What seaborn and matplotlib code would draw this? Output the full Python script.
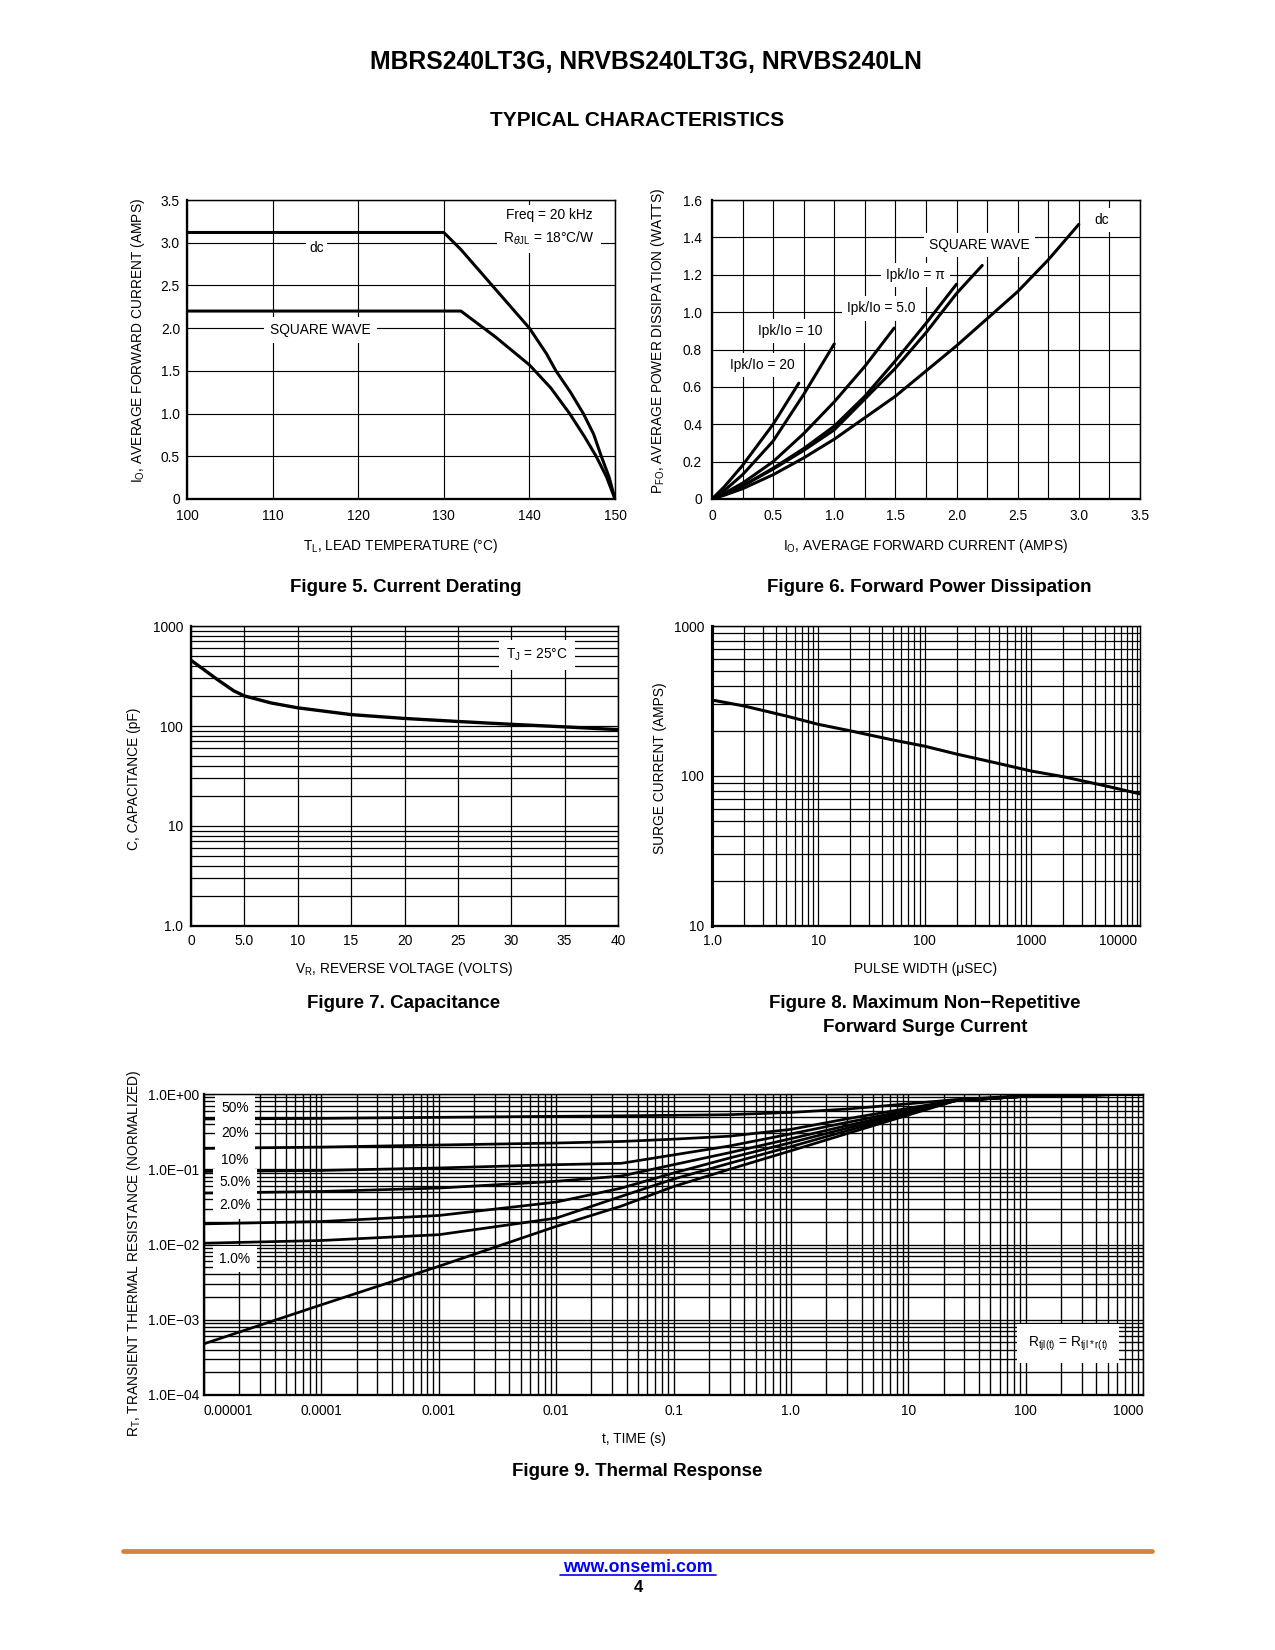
import numpy as np
import seaborn as sns
import matplotlib.pyplot as plt
from matplotlib.lines import Line2D
from matplotlib.ticker import LogLocator, MultipleLocator, NullFormatter

sns.set_style('white')
plt.rcParams['font.family'] = ['Liberation Sans', 'DejaVu Sans']
plt.rcParams['text.color'] = 'black'
plt.rcParams['axes.labelcolor'] = 'black'
plt.rcParams['xtick.color'] = 'black'
plt.rcParams['ytick.color'] = 'black'

W, H = 1275, 1650

# ---- Figure 5: current derating (lead temp degC -> amps) ----
derate_dc_temp = [100, 130, 132, 136, 140, 142, 143.1, 144.8, 146.3, 147.5, 148.4, 149.3, 150]
derate_dc_amps = [3.12, 3.12, 2.92, 2.46, 2.0, 1.7, 1.5, 1.25, 1.0, 0.76, 0.5, 0.26, 0.0]
derate_sq_temp = [100, 132, 136, 140, 142.5, 144.7, 146.5, 147.8, 149, 150]
derate_sq_amps = [2.2, 2.2, 1.9, 1.57, 1.3, 1.0, 0.72, 0.5, 0.26, 0.0]

# ---- Figure 6: forward power dissipation (amps -> watts) ----
pfo_curves = {
    'ipk20': ([0, 0.1, 0.25, 0.5, 0.71], [0, 0.065, 0.18, 0.40, 0.62]),
    'ipk10': ([0, 0.1, 0.25, 0.5, 0.75, 1.0], [0, 0.045, 0.13, 0.31, 0.56, 0.83]),
    'ipk5': ([0, 0.1, 0.25, 0.5, 0.75, 1.0, 1.25, 1.49],
             [0, 0.03, 0.085, 0.2, 0.35, 0.52, 0.71, 0.915]),
    'ipkpi': ([0, 0.1, 0.25, 0.5, 0.75, 1.0, 1.25, 1.5, 1.75, 2.0],
              [0, 0.025, 0.07, 0.165, 0.27, 0.39, 0.55, 0.74, 0.94, 1.15]),
    'square': ([0, 0.1, 0.25, 0.5, 0.75, 1.0, 1.5, 1.75, 2.0, 2.21],
               [0, 0.025, 0.07, 0.16, 0.26, 0.37, 0.70, 0.89, 1.10, 1.25]),
    'dc': ([0, 0.1, 0.25, 0.5, 0.75, 1.0, 1.5, 2.0, 2.5, 2.75, 3.0],
           [0, 0.02, 0.055, 0.13, 0.22, 0.32, 0.55, 0.82, 1.11, 1.28, 1.47]),
}

# ---- Figure 7: capacitance ----
cap_volts = [0, 1, 2.5, 4, 5, 7.5, 10, 15, 20, 25, 30, 35, 40]
cap_pf = [454, 380, 290, 225, 200, 170, 152, 130, 119, 111, 104, 98, 92]

# ---- Figure 8: surge current ----
surge_us = [1, 2, 5, 10, 20, 50, 100, 200, 500, 1000, 2000, 5000, 10600]
surge_amps = [321, 293, 251, 221, 200, 174, 158, 140, 121, 108, 99, 86, 76]

# ---- Figure 9: thermal response r(t) ----
rt_time = [1e-5, 1e-4, 1e-3, 1e-2, 0.036, 0.1, 0.3, 1, 3, 10, 25, 100, 1000]
rt_50 = [0.465, 0.474, 0.490, 0.505, 0.513, 0.521, 0.531, 0.569, 0.631, 0.741, 0.841, 0.955, 1.0]
rt_20 = [0.189, 0.197, 0.210, 0.223, 0.234, 0.251, 0.275, 0.339, 0.468, 0.646, 0.822, 0.933, 1.0]
rt_10 = [0.0935, 0.0964, 0.104, 0.115, 0.120, 0.155, 0.204, 0.295, 0.419, 0.608, 0.813, 0.933, 1.0]
rt_5 = [0.0482, 0.0507, 0.0562, 0.0692, 0.0813, 0.115, 0.166, 0.255, 0.380, 0.582, 0.813, 0.933, 1.0]
rt_2 = [0.0188, 0.0202, 0.0243, 0.0366, 0.0562, 0.0891, 0.141, 0.226, 0.351, 0.562, 0.813, 0.933, 1.0]
rt_1 = [0.0104, 0.0113, 0.0135, 0.0224, 0.0437, 0.0741, 0.120, 0.200, 0.324, 0.545, 0.813, 0.933, 1.0]
rt_single = [0.000479, 0.00158, 0.00513, 0.0174, 0.0324, 0.0589, 0.1, 0.176, 0.297, 0.525, 0.813, 0.933, 1.0]
rt_labels = ['50%', '20%', '10%', '5.0%', '2.0%', '1.0%']
rt_label_y = [0.65, 0.30, 0.134, 0.067, 0.033, 0.0064]

FS = 6.6
BOX = dict(facecolor='white', edgecolor='none', pad=1.5)

fig = plt.figure(figsize=(8.5, 11), dpi=150)
fig.patch.set_facecolor('white')


def add_ax(x0, y0, x1, y1):
    # axes box given in page pixels
    return fig.add_axes([x0 / W, 1 - y1 / H, (x1 - x0) / W, (y1 - y0) / H])


def page_text(x, y, s, **kw):
    fig.text(x / W, 1 - y / H, s, ha='center', va='center', **kw)


def style_axes(ax, pad, grid_lw=0.6):
    for side in ['left', 'bottom']:
        ax.spines[side].set_linewidth(1.1)
    for side in ['top', 'right']:
        ax.spines[side].set_linewidth(0.7)
    for s in ax.spines.values():
        s.set_color('black')
        s.set_visible(True)
        s.set_zorder(5)
    ax.tick_params(which='both', length=0, labelsize=FS, colors='black')
    ax.tick_params(axis='x', pad=pad[0])
    ax.tick_params(axis='y', pad=pad[1])
    ax.grid(which='both', color='black', lw=grid_lw)
    ax.set_axisbelow(True)


def log_minor(axis):
    axis.set_minor_locator(LogLocator(base=10, subs=np.arange(2, 10), numticks=100))
    axis.set_minor_formatter(NullFormatter())


def curve(ax, x, y, lw=1.45):
    sns.lineplot(x=x, y=y, ax=ax, color='black', lw=lw, estimator=None, zorder=3)


def axis_labels(ax, xl, yl, xpos, ypos):
    ax.set_xlabel(xl, fontsize=FS, va='center')
    ax.set_ylabel(yl, fontsize=FS, va='center')
    ax.xaxis.set_label_coords(*xpos)
    ax.yaxis.set_label_coords(*ypos)


# ---------------- Figure 5 ----------------
ax5 = add_ax(187, 200, 615, 499)
ax5.set_xlim(100, 150)
ax5.set_ylim(0, 3.5)
ax5.xaxis.set_major_locator(MultipleLocator(10))
ax5.set_yticks(np.arange(0, 3.51, 0.5), ['0', '0.5', '1.0', '1.5', '2.0', '2.5', '3.0', '3.5'])
style_axes(ax5, (5, 3.4), grid_lw=0.55)
curve(ax5, derate_dc_temp, derate_dc_amps)
curve(ax5, derate_sq_temp, derate_sq_amps)
ax5.text(115.1, 2.94, 'dc', fontsize=FS, ha='center', va='center', bbox=BOX, zorder=4)
ax5.text(115.6, 1.98, 'SQUARE WAVE', fontsize=FS, ha='center', va='center',
         bbox=dict(facecolor='white', edgecolor='none', pad=3), zorder=4)
ax5.text(142.3, 3.32, 'Freq = 20 kHz', fontsize=FS, ha='center', va='center', bbox=BOX, zorder=4)
ax5.text(142.3, 3.05, r'R$_{\theta\mathregular{JL}}$ = 18°C/W', fontsize=FS, ha='center',
         va='center', bbox=dict(facecolor='white', edgecolor='none', pad=3), zorder=4)
axis_labels(ax5, r'T$_\mathregular{L}$, LEAD TEMPERATURE (°C)',
            r'I$_\mathregular{O}$, AVERAGE FORWARD CURRENT (AMPS)', (0.5, -0.157), (-0.1145, 0.53))

# ---------------- Figure 6 ----------------
ax6 = add_ax(712, 200, 1140, 499)
ax6.set_xlim(0, 3.5)
ax6.set_ylim(0, 1.6)
ax6.set_xticks(np.arange(0, 3.51, 0.5), ['0', '0.5', '1.0', '1.5', '2.0', '2.5', '3.0', '3.5'])
ax6.xaxis.set_minor_locator(MultipleLocator(0.25))
ax6.set_yticks(np.arange(0, 1.61, 0.2), ['0', '0.2', '0.4', '0.6', '0.8', '1.0', '1.2', '1.4', '1.6'])
style_axes(ax6, (5, 4.8), grid_lw=0.55)
for key, (io, pw) in pfo_curves.items():
    curve(ax6, io, pw)
for x, y, s in [(3.19, 1.494, 'dc'), (2.19, 1.36, 'SQUARE WAVE'), (1.664, 1.2, 'Ipk/Io = π'),
                (1.386, 1.02, 'Ipk/Io = 5.0'), (0.636, 0.90, 'Ipk/Io = 10'),
                (0.41, 0.718, 'Ipk/Io = 20')]:
    ax6.text(x, y, s, fontsize=FS, ha='center', va='center',
             bbox=dict(facecolor='white', edgecolor='none', pad=2.5), zorder=4)
axis_labels(ax6, r'I$_\mathregular{O}$, AVERAGE FORWARD CURRENT (AMPS)',
            r'P$_\mathregular{FO}$, AVERAGE POWER DISSIPATION (WATTS)', (0.498, -0.157), (-0.126, 0.53))

# ---------------- Figure 7 ----------------
ax7 = add_ax(191, 626, 618, 926)
ax7.set_yscale('log')
ax7.set_xlim(0, 40)
ax7.set_ylim(1, 1000)
ax7.set_xticks(np.arange(0, 41, 5), ['0', '5.0', '10', '15', '20', '25', '30', '35', '40'])
ax7.set_yticks([1, 10, 100, 1000], ['1.0', '10', '100', '1000'])
log_minor(ax7.yaxis)
style_axes(ax7, (4, 3.8))
curve(ax7, cap_volts, cap_pf, lw=1.6)
ax7.text(32.4, 513, r'T$_\mathregular{J}$ = 25°C', fontsize=FS, ha='center', va='center',
         bbox=dict(facecolor='white', edgecolor='none', pad=3.5), zorder=4)
axis_labels(ax7, r'V$_\mathregular{R}$, REVERSE VOLTAGE (VOLTS)', 'C, CAPACITANCE (pF)',
            (0.499, -0.143), (-0.134, 0.49))

# ---------------- Figure 8 ----------------
ax8 = add_ax(712, 626, 1140, 926)
ax8.set_xscale('log')
ax8.set_yscale('log')
ax8.set_xlim(1, 10600)
ax8.set_ylim(10, 1000)
ax8.set_xticks([1, 10, 100, 1000, 10000], ['1.0', '10', '100', '1000', '10000'])
ax8.set_yticks([10, 100, 1000], ['10', '100', '1000'])
log_minor(ax8.xaxis)
log_minor(ax8.yaxis)
style_axes(ax8, (4, 3.8))
ax8.spines['left'].set_linewidth(1.5)
ax8.get_xticklabels()[-1].set_ha('right')
curve(ax8, surge_us, surge_amps)
axis_labels(ax8, 'PULSE WIDTH (μSEC)', 'SURGE CURRENT (AMPS)', (0.498, -0.143), (-0.122, 0.527))

# ---------------- Figure 9 ----------------
ax9 = add_ax(204, 1094, 1143, 1395)
ax9.set_xscale('log')
ax9.set_yscale('log')
ax9.set_xlim(1e-5, 1e3)
ax9.set_ylim(1e-4, 1)
ax9.set_xticks([1e-5, 1e-4, 1e-3, 1e-2, 1e-1, 1, 10, 100, 1000],
               ['0.00001', '0.0001', '0.001', '0.01', '0.1', '1.0', '10', '100', '1000'])
ax9.set_yticks([1e-4, 1e-3, 1e-2, 1e-1, 1],
               ['1.0E\u221204', '1.0E\u221203', '1.0E\u221202', '1.0E\u221201', '1.0E+00'])
log_minor(ax9.xaxis)
log_minor(ax9.yaxis)
style_axes(ax9, (4.3, 2.4), grid_lw=0.65)
ax9.get_xticklabels()[0].set_ha('left')
ax9.get_xticklabels()[-1].set_ha('right')
for series in [rt_50, rt_20, rt_10, rt_5, rt_2, rt_1, rt_single]:
    curve(ax9, rt_time, series, lw=1.3)
for s, y in zip(rt_labels, rt_label_y):
    ax9.text(1.83e-5, y, s, fontsize=FS, ha='center', va='center',
             bbox=dict(facecolor='white', edgecolor='none', pad=3), zorder=4)
ax9.text(229, 4.8e-4, r'R$_\mathregular{tjl(t)}$ = R$_\mathregular{tjl*r(t)}$', fontsize=FS,
         ha='center', va='center', bbox=dict(facecolor='white', edgecolor='none', pad=5), zorder=4)
axis_labels(ax9, 't, TIME (s)', r'R$_\mathregular{T}$, TRANSIENT THERMAL RESISTANCE (NORMALIZED)',
            (0.458, -0.146), (-0.075, 0.47))

# ---------------- page text ----------------
page_text(646, 62, 'MBRS240LT3G, NRVBS240LT3G, NRVBS240LN', fontsize=11.9, fontweight='bold')
page_text(637, 120, 'TYPICAL CHARACTERISTICS', fontsize=10, fontweight='bold')
page_text(406, 587, 'Figure 5. Current Derating', fontsize=9, fontweight='bold')
page_text(929, 587, 'Figure 6. Forward Power Dissipation', fontsize=9, fontweight='bold')
page_text(404, 1004, 'Figure 7. Capacitance', fontsize=9, fontweight='bold')
page_text(925, 1004, 'Figure 8. Maximum Non\u2212Repetitive', fontsize=9, fontweight='bold')
page_text(925, 1027, 'Forward Surge Current', fontsize=9, fontweight='bold')
page_text(637, 1472, 'Figure 9. Thermal Response', fontsize=9, fontweight='bold')

fig.add_artist(Line2D([123 / W, 1152 / W], [1 - 1550.5 / H, 1 - 1550.5 / H],
                      color='#D9823B', lw=2.3, solid_capstyle='round'))
page_text(638, 1567, 'www.onsemi.com', fontsize=8.5, fontweight='bold', color='#0000FF')
fig.add_artist(Line2D([560 / W, 716 / W], [1 - 1575 / H, 1 - 1575 / H], color='#0000FF', lw=0.8))
page_text(638, 1588, '4', fontsize=8, fontweight='bold')

fig.savefig('out.png', dpi=150, facecolor='white')
